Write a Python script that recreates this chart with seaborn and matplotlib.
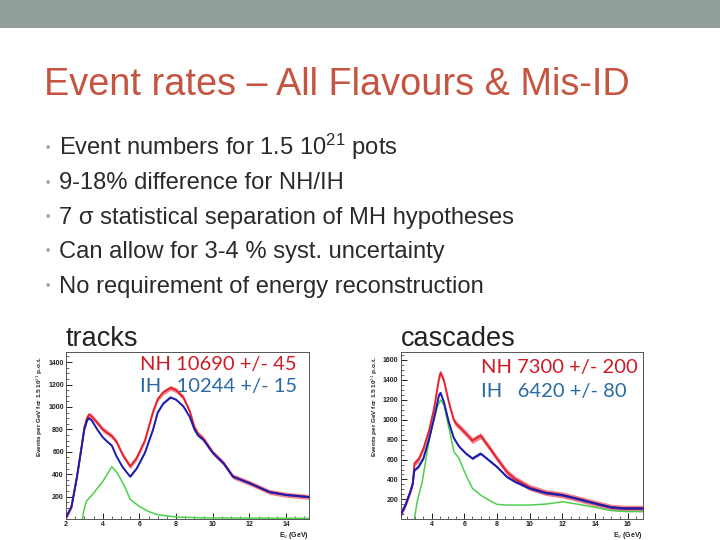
import matplotlib
matplotlib.use("Agg")
import matplotlib.pyplot as plt
import matplotlib.patches as mpatches
from matplotlib.ticker import MultipleLocator
import numpy as np
import pandas as pd
import seaborn as sns

# ---------------- data ----------------
title = "Event rates – All Flavours & Mis-ID"
bullets = [
    r"Event numbers for 1.5 $\mathregular{10^{21}}$ pots",
    "9-18% difference for NH/IH",
    "7 σ statistical separation of MH hypotheses",
    "Can allow for 3-4 % syst. uncertainty",
    "No requirement of energy reconstruction",
]

trk_x = [2.0, 2.3, 2.6, 2.85, 3.0, 3.15, 3.25, 3.4, 3.7, 4.0, 4.25, 4.5, 4.75, 5.1, 5.5,
         5.85, 6.3, 6.75, 7.0, 7.3, 7.7, 8.0, 8.4, 8.75, 9.0, 9.2, 9.5, 10.0, 10.6, 11.1,
         12.0, 13.1, 14.0, 15.3]
trk_ih = [15, 111, 378, 644, 800, 880, 900, 880, 800, 730, 690, 655, 560, 460, 378,
          450, 590, 800, 950, 1030, 1085, 1065, 1005, 910, 800, 745, 705, 590, 495, 378,
          320, 240, 215, 195]
trk_nh = [15, 111, 378, 644, 820, 905, 932, 915, 860, 800, 770, 740, 690, 570, 470,
          545, 700, 960, 1070, 1130, 1170, 1150, 1085, 960, 820, 760, 715, 595, 497, 380,
          322, 241, 216, 196]
trk_gx = [2.9, 2.95, 3.1, 3.5, 4.0, 4.5, 4.8, 5.2, 5.5, 6.0, 6.5, 7.0, 7.5, 8.0, 9.5, 12.0, 15.3]
trk_gy = [0, 60, 155, 230, 333, 467, 410, 290, 175, 112, 67, 38, 28, 18, 10, 8, 6]

cas_x = [2.1, 2.4, 2.7, 2.85, 2.95, 3.2, 3.5, 3.85, 4.15, 4.45, 4.55, 4.75, 5.05, 5.35,
         5.5, 5.7, 6.1, 6.5, 7.0, 7.5, 8.0, 8.6, 9.1, 10.0, 10.95, 12.0, 13.0, 14.0, 15.0,
         15.8, 17.0]
cas_ih = [43, 143, 277, 360, 494, 527, 611, 811, 1012, 1246, 1269, 1179, 978, 820,
          778, 728, 661, 611, 661, 594, 527, 427, 378, 311, 267, 243, 203, 160, 120,
          110, 110]
cas_nh = [43, 143, 277, 360, 561, 600, 711, 895, 1112, 1413, 1473, 1396, 1179, 1000,
          960, 928, 862, 790, 840, 728, 611, 477, 405, 320, 270, 245, 204, 161, 121,
          111, 111]
cas_gx = [2.95, 3.12, 3.43, 3.73, 4.04, 4.35, 4.55, 4.76, 5.07, 5.37, 5.68, 6.1, 6.5,
          7.0, 7.5, 8.0, 8.6, 10.0, 11.0, 12.0, 13.0, 14.0, 15.0, 16.0, 17.0]
cas_gy = [10, 177, 377, 678, 945, 1129, 1200, 1146, 912, 678, 611, 444, 310, 243, 193,
          150, 143, 143, 153, 176, 150, 120, 87, 77, 77]

panels = [
    dict(name="tracks", x=trk_x, ih=trk_ih, nh=trk_nh, gx=trk_gx, gy=trk_gy,
         xlim=(2.0, 15.25), ylim=(0, 1490), nh_band=22, ih_band=6,
         nh_txt="NH 10690 +/- 45", ih_txt="IH   10244 +/- 15"),
    dict(name="cascades", x=cas_x, ih=cas_ih, nh=cas_nh, gx=cas_gx, gy=cas_gy,
         xlim=(2.1, 16.95), ylim=(0, 1680), nh_band=30, ih_band=12,
         nh_txt="NH 7300 +/- 200", ih_txt="IH   6420 +/- 80"),
]

# ---------------- figure ----------------
sns.set_theme(style="white")
plt.rcParams["font.family"] = ["Liberation Sans", "DejaVu Sans"]
plt.rcParams["mathtext.fontset"] = "custom"
plt.rcParams["mathtext.rm"] = "Liberation Sans"

W, H = 720, 540
fig = plt.figure(figsize=(7.2, 5.4), dpi=100)
fig.patch.set_facecolor("white")

def fx(px):
    return px / W

def fy(py):
    return 1 - py / H

# top band
fig.patches.append(mpatches.Rectangle((0, fy(28)), 1, 28 / H, transform=fig.transFigure,
                                      facecolor="#929f98", edgecolor="none", zorder=0))

fig.text(fx(44), fy(95), title, fontsize=27.3, color="#c55441", va="baseline", ha="left")

for i, b in enumerate(bullets):
    yb = 155 + i * 34.5
    fig.text(fx(46), fy(yb - 6), "•", fontsize=9, color="#a0a0a0", va="center", ha="left")
    fig.text(fx(59), fy(yb), b, fontsize=17.1, color="#2a2a2a", va="baseline", ha="left")

ax_px = [(66, 352, 309, 519), (400.5, 352, 643.3, 519.3)]
label_px = [(66, 346), (401, 346)]
txt_px = [(140, 370, 392), (481, 373, 397)]

red = "#e3202c"
blue = "#1c1cb0"
green = "#4fcf4f"

for p, (l, t, r, b), (lx, ly), (tx, ny, iy) in zip(panels, ax_px, label_px, txt_px):
    ax = fig.add_axes([fx(l), fy(b), fx(r - l), (b - t) / H])
    df = pd.DataFrame({"E": p["x"], "IH": p["ih"], "NH": p["nh"]})
    dg = pd.DataFrame({"E": p["gx"], "mis": p["gy"]})
    x = np.array(p["x"])
    nh = np.array(p["nh"], float)
    ih = np.array(p["ih"], float)
    ax.fill_between(x, nh - p["nh_band"], nh + p["nh_band"], color=red, alpha=0.55,
                    lw=0, zorder=2)
    ax.fill_between(x, ih - p["ih_band"], ih + p["ih_band"], color=blue, alpha=0.7,
                    lw=0, zorder=3)
    sns.lineplot(data=dg, x="E", y="mis", ax=ax, color=green, lw=1.1, sort=False,
                 estimator=None, zorder=2)
    sns.lineplot(data=df, x="E", y="NH", ax=ax, color=red, lw=1.3, sort=False,
                 estimator=None, zorder=3)
    sns.lineplot(data=df, x="E", y="IH", ax=ax, color=blue, lw=1.4, sort=False,
                 estimator=None, zorder=4)
    ax.set_xlim(*p["xlim"])
    ax.set_ylim(*p["ylim"])
    ax.xaxis.set_major_locator(MultipleLocator(2))
    ax.xaxis.set_minor_locator(MultipleLocator(0.5))
    ax.yaxis.set_major_locator(MultipleLocator(200))
    ax.yaxis.set_minor_locator(MultipleLocator(50))
    yt = [v for v in range(200, int(p["ylim"][1]), 200)]
    ax.set_yticks(yt)
    ax.tick_params(axis="both", which="major", direction="in", length=4, width=0.7,
                   labelsize=5, pad=1.5, colors="#222222", bottom=True, left=True)
    ax.tick_params(axis="both", which="minor", direction="in", length=2, width=0.5,
                   bottom=True, left=True)
    for lab in ax.get_xticklabels() + ax.get_yticklabels():
        lab.set_fontweight("bold")
    ax.set_xlabel("")
    ax.set_ylabel("")
    for s in ax.spines.values():
        s.set_color("#555555")
        s.set_linewidth(0.7)
    # ROOT style axis titles
    fig.text(fx(r), fy(535.5), r"E$_\nu$ (GeV)", fontsize=5, fontweight="bold",
             ha="right", va="center", color="#222222")
    fig.text(fx(l - 26), fy(407), r"Events per GeV for 1.5 10$^{21}$ p.o.t.", fontsize=4.6,
             fontweight="bold", rotation=90, ha="center", va="center", color="#222222")
    # slide labels
    fig.text(fx(lx), fy(ly), p["name"], fontsize=19.5, color="#222222",
             ha="left", va="baseline")
    fig.text(fx(tx), fy(ny), p["nh_txt"], fontsize=14.5, color="#d01b26",
             ha="left", va="baseline", family=["Lato", "DejaVu Sans"])
    fig.text(fx(tx), fy(iy), p["ih_txt"], fontsize=14.5, color="#2a6aa4",
             ha="left", va="baseline", family=["Lato", "DejaVu Sans"])

fig.savefig("out.png", dpi=100)
